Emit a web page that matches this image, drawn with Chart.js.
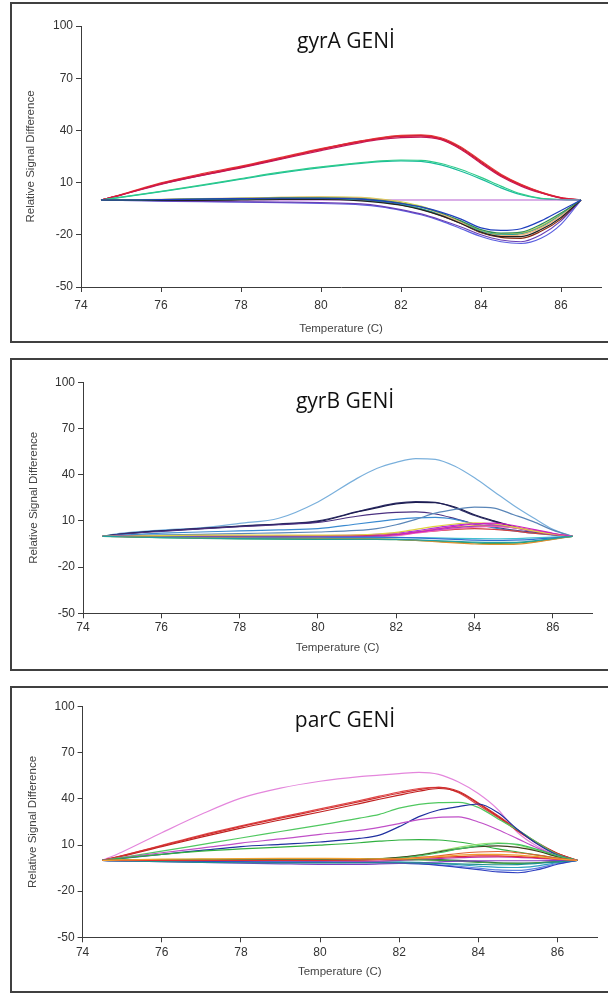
<!DOCTYPE html>
<html>
<head>
<meta charset="utf-8">
<script src="https://cdn.jsdelivr.net/npm/chart.js@4.4.1/dist/chart.umd.min.js"></script>
<style>
  body { margin: 0; background: #fff; width: 608px; height: 993px; overflow: hidden; position: relative; }
  .panel { position: absolute; left: 10px; width: 620px; border: 2px solid #404040; box-sizing: border-box; }
  canvas { position: absolute; left: 0; }
</style>
</head>
<body>
<div class="panel" style="top:2px; height:341px"></div>
<div class="panel" style="top:358px; height:313px"></div>
<div class="panel" style="top:686px; height:307px"></div>
<canvas id="gyrA" width="608" height="343" style="top:0px"></canvas>
<canvas id="gyrB" width="608" height="315" style="top:357px"></canvas>
<canvas id="parC" width="608" height="308" style="top:685px"></canvas>
<script>
const temps = [74.5, 75, 76, 77, 78, 79, 80, 81, 81.5, 82, 82.5, 83, 83.5, 84, 84.5, 85, 85.5, 86, 86.5];
const xTicks = [74, 76, 78, 80, 82, 84, 86];
const yTicks = [-50, -20, 10, 40, 70, 100];

// gyrA - upper red bundle, green pair, flat line, lower dip bundle
const gyrARed1 = [0, 3, 9.5, 14.5, 19, 24, 29, 33.5, 35.3, 36.5, 36.8, 35, 29.5, 21.5, 14, 8.5, 4.2, 1.2, 0];
const gyrARed2 = [0, 2.8, 9, 14, 18.5, 23.4, 28.4, 33, 34.8, 35.8, 36.1, 34.6, 29, 21, 13.5, 8, 4, 1, 0];
const gyrARed3 = [0, 3.1, 9.8, 15, 19.5, 24.5, 29.5, 34, 35.9, 37.1, 37.4, 35.8, 30.5, 22.5, 14.8, 9, 4.6, 1.4, 0];
const gyrARed4 = [0, 2.9, 9.2, 14.2, 18.8, 23.8, 29.2, 33.8, 35.6, 36.8, 37, 35.3, 30, 22, 14.4, 8.8, 4.4, 1.3, 0];
const gyrAGreen1 = [0, 1.6, 5, 8.5, 12.3, 16, 19, 21.5, 22.5, 23, 22.8, 21, 17.5, 13, 8, 3.5, 1, 0.3, 0];
const gyrAGreen2 = [0, 1.5, 4.8, 8.2, 12, 15.6, 18.6, 21, 22, 22.5, 22.2, 20.2, 16.5, 12, 7, 3, 0.8, 0.2, 0];
const gyrAFlat = [0, 0, 0, 0, 0, 0, 0, 0, 0, 0, 0, 0, 0, 0, 0, 0, 0, 0, 0];
const gyrADip1 = [0, 0, 0.2, 0.5, 0.8, 1, 1, 0.5, -0.5, -2, -4, -7, -11, -16, -17.5, -16.5, -12, -6, 0];
const gyrADip2 = [0, 0, 0.3, 0.6, 0.9, 1.2, 1.3, 0.8, -0.2, -1.8, -4, -7.5, -12, -17, -19, -18.5, -14, -7.5, 0];
const gyrADip3 = [0, -0.1, -0.2, -0.2, 0, 0.3, 0.3, -0.5, -1.5, -3, -5.5, -9, -13.5, -18.5, -21, -21, -17, -10, 0];
const gyrADip4 = [0, 0.1, 0.4, 0.8, 1.1, 1.5, 1.6, 1.2, 0.3, -1.5, -4, -8, -13, -18.5, -20.5, -20, -16, -9, 0];
const gyrADip5 = [0, -0.2, -0.5, -0.8, -1, -1.2, -1.5, -2.2, -3.5, -5.5, -8, -11.5, -15.5, -20, -23, -24, -20, -12, 0];
const gyrADip6 = [0, -0.2, -0.6, -1, -1.2, -1.5, -2, -2.8, -4, -6, -8.5, -12, -16.5, -21, -24, -25, -22, -14, 0];
const gyrADip7 = [0, 0, 0, 0.1, 0.3, 0.5, 0.6, 0, -1, -2.5, -5, -8.5, -13, -18, -20, -19.5, -15.5, -8.5, 0];
const gyrADip8 = [0, 0, 0.1, 0.3, 0.5, 0.8, 0.8, 0.2, -1, -2.8, -5.3, -9, -13.5, -18.8, -21.5, -22, -18, -11, 0];
const gyrADip9 = [0, 0, 0.2, 0.5, 1, 1.5, 1.8, 1.5, 0.5, -1, -3.5, -7.5, -12.5, -17.5, -19.5, -19, -15, -8, 0];

// gyrB - a few raised curves, a tight bundle around zero
const gyrBLightBlue = [0, 2, 4, 5.5, 8.4, 11.7, 22.3, 37.6, 44, 48, 50.5, 50, 45.5, 38, 29, 20, 12, 4.5, 0];
const gyrBNavy1 = [0, 1.5, 3.5, 5, 6.5, 7.8, 9.5, 15.8, 18.5, 21, 22, 21.8, 19, 14, 10, 6.3, 3.5, 1.5, 0];
const gyrBNavy2 = [0, 1.6, 3.6, 5.2, 6.7, 8, 10, 16, 19, 21.5, 22.5, 22, 18.5, 13.5, 9.5, 6, 3.2, 1.4, 0];
const gyrBPurple = [0, 1.4, 3.2, 4.8, 6.2, 7.5, 9, 13, 14.5, 15.5, 15.8, 14.5, 11.5, 8, 6, 4, 2.5, 1, 0];
const gyrBBlue = [0, 0.8, 2, 2.8, 3.5, 4.2, 5, 8, 9.5, 11, 12, 12.3, 11, 8, 5.5, 3.5, 2, 0.8, 0];
const gyrBSteel = [0, 0.5, 1, 1.3, 1.8, 2.2, 2.8, 3.8, 5, 7.5, 11, 15, 17.5, 19, 18.3, 14, 9.5, 4, 0];
const gyrBUp1 = [0, 0, -0.3, -0.5, -0.5, -0.5, -0.4, -0.2, 0.2, 1, 2.5, 4.5, 6.5, 8, 8.5, 7, 4.5, 2, 0];
const gyrBUp2 = [0, 0.2, 0.5, 0.7, 0.8, 0.8, 0.8, 1, 1.5, 2.5, 4.5, 6.5, 8, 8.8, 8, 6, 3.5, 1.5, 0];
const gyrBUp3 = [0, -0.2, -0.5, -0.8, -1, -1, -1, -0.8, -0.3, 0.5, 2, 3.5, 5, 6, 6.5, 5.5, 3.5, 1.5, 0];
const gyrBUp4 = [0, -0.1, -0.4, -0.6, -0.8, -0.9, -0.8, -0.5, 0, 1, 2.5, 4, 5.5, 6.5, 6.8, 5.5, 3.5, 1.5, 0];
const gyrBUp5 = [0, 0, 0, 0, 0, 0, 0.2, 0.3, 0.6, 1.2, 2.5, 3.5, 4.5, 5, 4.5, 3.5, 2, 1, 0];
const gyrBUp6 = [0, 0.1, 0.2, 0.3, 0.3, 0.4, 0.5, 0.7, 1.2, 2, 3.5, 5.5, 7.2, 8.2, 7.6, 5.8, 3.6, 1.6, 0];
const gyrBUp7 = [0, -0.1, -0.2, -0.3, -0.3, -0.3, -0.2, 0, 0.4, 1.2, 2.8, 4.8, 6, 7, 7.2, 6, 4, 1.8, 0];
const gyrBDown1 = [0, -0.3, -0.8, -1.2, -1.5, -1.7, -1.8, -1.8, -1.8, -2, -2.3, -2.8, -3.3, -3.8, -4, -4, -3, -1.5, 0];
const gyrBDown2 = [0, -0.2, -0.6, -1, -1.2, -1.3, -1.4, -1.5, -1.6, -2, -2.7, -3.5, -4.3, -5, -5.3, -5.2, -4, -2, 0];
const gyrBDown3 = [0, -0.3, -0.9, -1.4, -1.7, -1.9, -2, -2, -2, -2.2, -2.6, -3.2, -3.8, -4.3, -4.6, -4.5, -3.5, -1.8, 0];
const gyrBDown4 = [0, -0.1, -0.3, -0.5, -0.6, -0.6, -0.6, -0.5, -0.5, -0.7, -1, -1.5, -2, -2.5, -2.7, -2.5, -2, -1, 0];
const gyrBDown5 = [0, -0.2, -0.5, -0.8, -1, -1.1, -1.1, -1, -0.8, -0.8, -0.8, -1, -1.3, -1.5, -1.6, -1.5, -1, -0.5, 0];

// parC
const parCPink = [0, 5.5, 18, 30, 40.5, 47, 51.5, 54.5, 55.5, 56.5, 57.3, 56, 51, 43.5, 33, 18, 9, 3, 0];
const parCRed1 = [0, 3, 9.5, 16, 22, 27.5, 32.8, 38.3, 41, 43.7, 46, 47.6, 45, 37.4, 29, 19.8, 11.5, 4.7, 0];
const parCRed2 = [0, 2.8, 9, 15.2, 21, 26.3, 31.5, 37, 39.8, 42.5, 45, 46.8, 44.5, 37, 28.5, 19.3, 11, 4.5, 0];
const parCRed3 = [0, 3.1, 9.8, 16.5, 22.5, 28.2, 33.5, 39, 41.8, 44.5, 46.8, 47.5, 44, 36, 28, 19, 11, 4.4, 0];
const parCGreen = [0, 2, 6, 10.3, 14.6, 18.8, 23, 27.5, 30, 34, 36.5, 37.6, 37.8, 34.5, 27, 19.8, 11.5, 4, 0];
const parCNavy = [0, 1.3, 4, 6.5, 9, 10.5, 12, 14.3, 16.5, 22, 28.5, 32.8, 35, 36.7, 31, 20, 10.5, 3.5, 0];
const parCOrchid = [0, 1.8, 5, 8, 11.3, 14, 17, 19.5, 21.5, 24, 26.5, 28, 28.3, 25, 20, 14, 8, 3, 0];
const parCGreenLow = [0, 1.5, 4, 6, 7.5, 8.7, 10, 11.5, 12.5, 13.3, 13.6, 13.3, 12, 10, 7.5, 5.5, 3.5, 1.5, 0];
const parCHump1 = [0, 0, 0, 0, 0, 0, 0, 0.3, 0.8, 1.5, 3, 5, 7.5, 9.5, 11, 10.5, 7, 3, 0];
const parCHump2 = [0, -0.2, -0.3, -0.3, -0.2, 0, 0.2, 0.5, 1, 2, 3.5, 5.5, 7.5, 9, 9.5, 8.5, 6, 2.5, 0];
const parCHump3 = [0, 0, 0.1, 0.2, 0.3, 0.4, 0.5, 0.8, 1.2, 2, 3.5, 6, 8.5, 10.5, 11.5, 10, 6.5, 2.5, 0];
const parCFlat1 = [0, 0.3, 0.8, 1, 1.2, 1.3, 1.3, 1.2, 1, 1, 1.5, 2.5, 3.5, 4, 4, 3.5, 2.5, 1, 0];
const parCFlat2 = [0, 0, 0, 0, 0, 0, 0, 0.2, 0.5, 0.8, 1.5, 2, 2.5, 3, 3, 2.5, 1.8, 0.8, 0];
const parCFlat3 = [0, -0.3, -0.8, -1.2, -1.5, -1.6, -1.6, -1.5, -1.5, -1.5, -1.6, -2, -2.3, -2.6, -2.8, -2.7, -2, -1, 0];
const parCFlat4 = [0, -0.3, -0.8, -1.3, -1.8, -2.2, -2.5, -2.5, -2.3, -2, -1.5, -1, -0.5, -0.3, -0.2, -0.2, -0.2, -0.1, 0];
const parCFlat5 = [0, -0.2, -0.5, -0.8, -1, -1.2, -1.3, -1.4, -1.5, -1.8, -2.3, -3.2, -4.5, -6, -7.5, -8, -6, -2.5, 0];
const parCFlat6 = [0, -0.2, -0.4, -0.6, -0.8, -1, -1.1, -1.2, -1.3, -1.6, -2, -2.8, -3.8, -5, -6.2, -6.5, -5, -2, 0];
const parCFlat7 = [0, 0.2, 0.5, 0.7, 0.8, 0.9, 0.9, 0.8, 0.7, 0.5, 0.3, 0, -0.5, -1.2, -1.8, -2, -1.5, -0.8, 0];
const parCFlat8 = [0, -0.1, -0.3, -0.5, -0.6, -0.7, -0.7, -0.6, -0.4, 0, 0.6, 1.2, 1.8, 2.2, 2.3, 2, 1.4, 0.6, 0];
const parCFlat9 = [0, 0, 0.2, 0.4, 0.6, 0.8, 0.9, 1, 1, 1, 0.8, 0.5, 0, -0.8, -1.5, -1.8, -1.5, -0.8, 0];
const parCFlat10 = [0, 0.1, 0.3, 0.5, 0.6, 0.7, 0.8, 0.8, 0.9, 1.2, 2, 3, 4.5, 5.5, 5.8, 5, 3.5, 1.5, 0];
const parCFlat11 = [0, -0.1, -0.2, -0.4, -0.5, -0.6, -0.6, -0.7, -0.8, -1, -1.2, -1.8, -2.8, -3.8, -4.5, -4.6, -3.5, -1.5, 0];

const gyrASeries = [gyrADip1, gyrADip2, gyrADip3, gyrADip4, gyrADip5, gyrADip6, gyrADip7, gyrADip8, gyrADip9,
  gyrAFlat, gyrAGreen1, gyrAGreen2, gyrARed1, gyrARed2, gyrARed3, gyrARed4];
const gyrAColors = ["#1f3fbf", "#2e8b57", "#222222", "#f2b27a", "#6a3fb5", "#5b5fe0", "#2aa198", "#8b2a10", "#c8d44a",
  "#b55fd0", "#2ecc8a", "#1abc9c", "#d81b3c", "#c2185b", "#e53935", "#a0103a"];

const gyrBSeries = [gyrBDown1, gyrBDown2, gyrBDown3, gyrBDown4, gyrBDown5, gyrBUp1, gyrBUp2, gyrBUp3, gyrBUp4, gyrBUp5,
  gyrBUp6, gyrBUp7, gyrBSteel, gyrBBlue, gyrBPurple, gyrBNavy1, gyrBNavy2, gyrBLightBlue];
const gyrBColors = ["#20a0a0", "#e09030", "#30a050", "#3070d0", "#40c0d0", "#d020c0", "#e0d040", "#f060b0", "#8040c0", "#d04040",
  "#b030e0", "#f0b040", "#5a86b8", "#3a8ad0", "#4a3080", "#1c1c50", "#303068", "#7ab0dc"];

const parCSeries = [parCFlat1, parCFlat2, parCFlat3, parCFlat4, parCFlat5, parCFlat6, parCFlat7, parCFlat8, parCFlat9,
  parCFlat10, parCFlat11, parCHump1, parCHump2, parCHump3, parCGreenLow, parCOrchid, parCNavy, parCGreen,
  parCRed1, parCRed2, parCRed3, parCPink];
const parCColors = ["#f0a030", "#e03030", "#209090", "#8040c0", "#3040c0", "#6080e0", "#40a040", "#c030b0", "#206040",
  "#e06030", "#30a0c0", "#40c060", "#404020", "#90e070", "#30b040", "#c050c8", "#2030a0", "#50c860",
  "#d03030", "#c02020", "#e04848", "#e486dc"];

function lines(seriesList, colors) {
  return seriesList.map((s, i) => ({
    data: temps.map((t, j) => ({ x: t, y: s[j] })),
    borderColor: colors[i],
    borderWidth: 1.2,
    pointRadius: 0,
    cubicInterpolationMode: "monotone",
    fill: false
  }));
}

const geneTitle = {
  id: "geneTitle",
  afterDraw(chart, args, opts) {
    const ctx = chart.ctx;
    ctx.save();
    ctx.font = '21px "Open Sans"';
    ctx.fillStyle = "#111";
    ctx.textAlign = "center";
    ctx.textBaseline = "alphabetic";
    ctx.fillText(opts.text, opts.x, opts.y);
    ctx.restore();
  }
};

function meltChart(id, title, datasets, box) {
  const axisColor = "#3c3c3c";
  const tickFont = { family: "Liberation Sans", size: 12 };
  const titleFont = { family: "Liberation Sans", size: 11.5 };
  return new Chart(document.getElementById(id), {
    type: "line",
    data: { datasets },
    options: {
      responsive: false,
      animation: false,
      layout: { padding: { top: box.top, left: box.left, right: box.right, bottom: box.bottom } },
      plugins: {
        legend: { display: false },
        tooltip: { enabled: false },
        geneTitle: { text: title, x: box.titleX, y: box.titleY }
      },
      scales: {
        x: {
          type: "linear",
          min: 74,
          max: 87,
          afterBuildTicks: (scale) => { scale.ticks = xTicks.map((v) => ({ value: v })); },
          afterFit: (scale) => { scale.height = box.xHeight; },
          grid: { drawOnChartArea: false, drawTicks: true, tickLength: 5, color: axisColor },
          border: { color: axisColor, width: 1 },
          ticks: { color: "#333", font: tickFont, padding: box.tickPad, maxRotation: 0 },
          title: { display: true, text: "Temperature (C)", color: "#444", font: titleFont, padding: { top: 4, bottom: 4 } }
        },
        y: {
          min: -50,
          max: 100,
          afterBuildTicks: (scale) => { scale.ticks = yTicks.map((v) => ({ value: v })); },
          afterFit: (scale) => { scale.width = box.yWidth; },
          grid: { drawOnChartArea: false, drawTicks: true, tickLength: 5, color: axisColor },
          border: { color: axisColor, width: 1 },
          ticks: { color: "#333", font: tickFont, padding: 3 },
          title: { display: true, text: "Relative Signal Difference", color: "#444", font: titleFont, padding: { top: 4, bottom: 4 } }
        }
      }
    },
    plugins: [geneTitle]
  });
}

meltChart("gyrA", "gyrA GENİ", lines(gyrASeries, gyrAColors),
  { top: 26, left: 20, right: 7, bottom: 3.4, yWidth: 61, xHeight: 52.6, tickPad: 6.5, titleX: 346, titleY: 48 });
meltChart("gyrB", "gyrB GENİ", lines(gyrBSeries, gyrBColors),
  { top: 25.3, left: 23, right: 16, bottom: 13.4, yWidth: 60, xHeight: 45.3, tickPad: 2.5, titleX: 345, titleY: 51 });
meltChart("parC", "parC GENİ", lines(parCSeries, parCColors),
  { top: 21.7, left: 22, right: 11, bottom: 10.7, yWidth: 60.6, xHeight: 45, tickPad: 3.2, titleX: 345, titleY: 41.6 });
</script>
</body>
</html>
